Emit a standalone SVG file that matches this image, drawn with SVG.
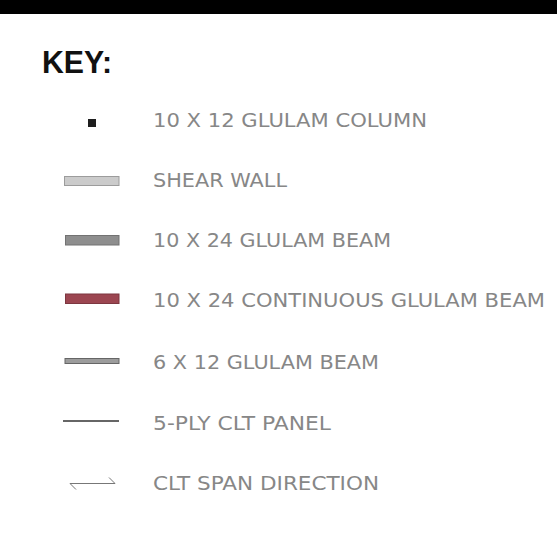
<svg xmlns="http://www.w3.org/2000/svg" width="557" height="537" viewBox="0 0 557 537">
  <style>
    .lbl { font-family: "DejaVu Sans", "Liberation Sans", Arial, sans-serif; font-size: 20px; fill: #878787; }
    .title { font-family: "Liberation Sans", Arial, sans-serif; font-size: 31px; font-weight: bold; fill: #111; }
    .thin { stroke: #777; stroke-width: 1; fill: none; }
  </style>
  <rect x="0" y="0" width="557" height="537" fill="#ffffff"/>
  <rect id="top-bar" x="0" y="0" width="557" height="14" fill="#000000"/>
  <text class="title" x="42" y="73" textLength="70" lengthAdjust="spacingAndGlyphs">KEY:</text>

  <g id="column">
    <rect x="88" y="119" width="8" height="8" fill="#1e1e1e"/>
    <text class="lbl" x="153" y="127" textLength="274" lengthAdjust="spacingAndGlyphs">10 X 12 GLULAM COLUMN</text>
  </g>

  <g id="shear-wall">
    <rect x="64.5" y="176.5" width="54.5" height="9" fill="#cbcbcb" stroke="#9c9c9c" stroke-width="1"/>
    <text class="lbl" x="153" y="187" textLength="134" lengthAdjust="spacingAndGlyphs">SHEAR WALL</text>
  </g>

  <g id="beam-10x24">
    <rect x="65.5" y="235.5" width="53.5" height="9.5" fill="#8e8e8e" stroke="#727272" stroke-width="1"/>
    <text class="lbl" x="153" y="247" textLength="238" lengthAdjust="spacingAndGlyphs">10 X 24 GLULAM BEAM</text>
  </g>

  <g id="continuous-beam">
    <rect x="65.5" y="294" width="53.5" height="9.5" fill="#9c4651" stroke="#7d3740" stroke-width="1"/>
    <text class="lbl" x="153" y="307" textLength="392" lengthAdjust="spacingAndGlyphs">10 X 24 CONTINUOUS GLULAM BEAM</text>
  </g>

  <g id="beam-6x12">
    <rect x="65" y="358.5" width="54" height="5" fill="#9c9c9c" stroke="#666666" stroke-width="1"/>
    <text class="lbl" x="153" y="369" textLength="226" lengthAdjust="spacingAndGlyphs">6 X 12 GLULAM BEAM</text>
  </g>

  <g id="clt-panel">
    <line x1="63" y1="421" x2="119" y2="421" stroke="#333333" stroke-width="1.3"/>
    <text class="lbl" x="153" y="430" textLength="178" lengthAdjust="spacingAndGlyphs">5-PLY CLT PANEL</text>
  </g>

  <g id="clt-span">
    <path class="thin" d="M70 483.5 H115 M109 477.5 L115 483.5 M70 483.5 L76 489.5"/>
    <text class="lbl" x="153" y="490" textLength="226" lengthAdjust="spacingAndGlyphs">CLT SPAN DIRECTION</text>
  </g>
</svg>
